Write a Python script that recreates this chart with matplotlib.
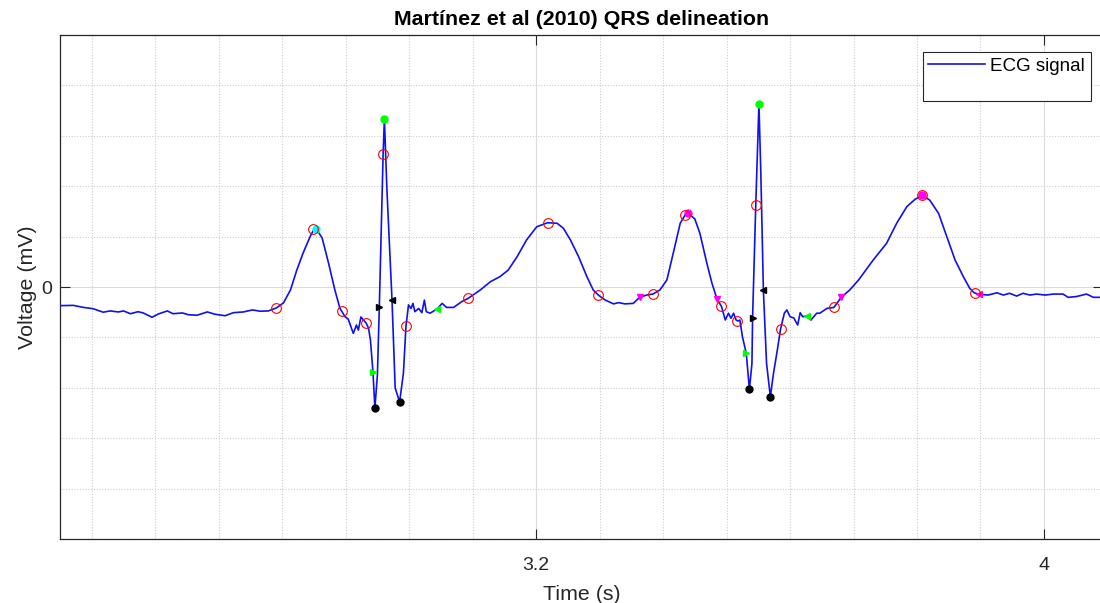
import matplotlib
matplotlib.use("Agg")
import matplotlib.pyplot as plt
from matplotlib.ticker import MultipleLocator, FixedLocator
from matplotlib.lines import Line2D

# ECG trace (time in s, amplitude in mV)
time_s = [2.450, 2.471, 2.487, 2.502, 2.518, 2.529, 2.542, 2.550, 2.561, 2.573,
          2.581, 2.595, 2.605, 2.619, 2.628, 2.643, 2.652, 2.666, 2.682, 2.694,
          2.710, 2.723, 2.739, 2.753, 2.765, 2.778, 2.791, 2.802, 2.813, 2.823,
          2.833, 2.844, 2.850, 2.854, 2.863, 2.873, 2.883, 2.891, 2.894, 2.899,
          2.904, 2.912, 2.917, 2.920, 2.924, 2.928, 2.932, 2.936, 2.939, 2.943,
          2.946, 2.950, 2.953, 2.959, 2.961, 2.965, 2.973, 2.978, 2.985, 2.991,
          2.995, 2.999, 3.003, 3.006, 3.009, 3.015, 3.020, 3.024, 3.027, 3.033,
          3.044, 3.052, 3.059, 3.070, 3.083, 3.093, 3.112, 3.128, 3.143, 3.156,
          3.170, 3.185, 3.201, 3.218, 3.233, 3.243, 3.254, 3.267, 3.280, 3.290,
          3.298, 3.309, 3.322, 3.330, 3.340, 3.353, 3.363, 3.374, 3.384, 3.395,
          3.406, 3.416, 3.427, 3.435, 3.440, 3.450, 3.458, 3.469, 3.477, 3.485,
          3.492, 3.498, 3.503, 3.507, 3.511, 3.515, 3.518, 3.521, 3.525, 3.531,
          3.536, 3.540, 3.541, 3.546, 3.551, 3.554, 3.558, 3.563, 3.569, 3.574,
          3.580, 3.585, 3.591, 3.595, 3.600, 3.606, 3.612, 3.616, 3.620, 3.626,
          3.633, 3.642, 3.647, 3.658, 3.669, 3.681, 3.694, 3.708, 3.731, 3.752,
          3.768, 3.784, 3.797, 3.808, 3.820, 3.834, 3.847, 3.860, 3.873, 3.883,
          3.890, 3.898, 3.912, 3.926, 3.936, 3.946, 3.957, 3.967, 3.978, 3.988,
          4.002, 4.015, 4.030, 4.038, 4.051, 4.067, 4.078, 4.093]

ecg_mv = [-0.074, -0.073, -0.081, -0.086, -0.100, -0.095, -0.099, -0.095, -0.106, -0.098,
          -0.103, -0.120, -0.107, -0.095, -0.106, -0.103, -0.110, -0.112, -0.099, -0.108,
          -0.114, -0.102, -0.099, -0.091, -0.096, -0.095, -0.083, -0.063, -0.012, 0.067,
          0.135, 0.200, 0.229, 0.230, 0.194, 0.095, -0.012, -0.085, -0.097, -0.118,
          -0.127, -0.184, -0.151, -0.171, -0.119, -0.131, -0.142, -0.163, -0.210, -0.337,
          -0.480, -0.349, -0.081, 0.528, 0.667, 0.385, -0.052, -0.401, -0.456, -0.341,
          -0.155, -0.071, -0.085, -0.065, -0.098, -0.085, -0.102, -0.052, -0.098, -0.104,
          -0.087, -0.065, -0.081, -0.081, -0.058, -0.045, -0.012, 0.021, 0.041, 0.067,
          0.120, 0.187, 0.239, 0.255, 0.253, 0.233, 0.187, 0.120, 0.041, -0.012,
          -0.032, -0.052, -0.067, -0.062, -0.067, -0.065, -0.041, -0.032, -0.028, -0.012,
          0.028, 0.134, 0.253, 0.287, 0.292, 0.270, 0.213, 0.094, 0.015, -0.048,
          -0.077, -0.131, -0.104, -0.124, -0.104, -0.131, -0.135, -0.131, -0.197, -0.263,
          -0.406, -0.303, -0.123, 0.325, 0.726, 0.451, -0.012, -0.303, -0.435, -0.342,
          -0.250, -0.168, -0.104, -0.091, -0.118, -0.123, -0.151, -0.102, -0.118, -0.115,
          -0.131, -0.104, -0.104, -0.085, -0.081, -0.040, -0.012, 0.028, 0.107, 0.173,
          0.253, 0.319, 0.348, 0.364, 0.345, 0.292, 0.200, 0.107, 0.041, -0.005,
          -0.023, -0.029, -0.032, -0.023, -0.032, -0.025, -0.036, -0.025, -0.032, -0.028,
          -0.032, -0.028, -0.028, -0.041, -0.038, -0.028, -0.041, -0.041]

# Wave boundaries / peaks (open red circles)
fiducial_t = [2.791, 2.849, 2.894, 2.932, 2.959, 2.995, 3.093, 3.219, 3.298,
              3.384, 3.435, 3.492, 3.517, 3.546, 3.585, 3.669, 3.808, 3.891]
fiducial_v = [-0.083, 0.230, -0.095, -0.141, 0.528, -0.155, -0.044, 0.254, -0.032,
              -0.028, 0.286, -0.077, -0.135, 0.325, -0.167, -0.081, 0.365, -0.022]

# R peaks
r_peak_t = [2.961, 3.551]
r_peak_v = [0.667, 0.726]

# Q and S waves
qs_t = [2.946, 2.985, 3.536, 3.569]
qs_v = [-0.480, -0.456, -0.406, -0.437]

# Black triangles around the R wave
rwave_on_t = [2.953, 3.541]
rwave_on_v = [-0.081, -0.123]
rwave_off_t = [2.973, 3.558]
rwave_off_v = [-0.052, -0.012]

# QRS onset / offset
qrs_on_t = [2.943, 3.531]
qrs_on_v = [-0.337, -0.263]
qrs_off_t = [3.044, 3.626]
qrs_off_v = [-0.087, -0.115]

# P peak (first beat)
p_peak_t = [2.854]
p_peak_v = [0.230]

# P / T peaks and bounds (second beat)
pt_peak_t = [3.440, 3.808]
pt_peak_v = [0.292, 0.364]
pt_bound_t = [3.363, 3.485, 3.681]
pt_bound_v = [-0.041, -0.048, -0.040]
t_end_t = [3.898]
t_end_v = [-0.029]

x_ticks = [3.2, 4]
x_tick_labels = ["3.2", "4"]
y_ticks = [0]
y_tick_labels = ["0"]

plt.rcParams["font.family"] = ["Liberation Sans", "DejaVu Sans"]

W, H = 1100, 603
fig = plt.figure(figsize=(W / 100, H / 100), dpi=100)
ax = fig.add_axes([60 / W, 1 - 539 / H, (1103 - 60) / W, (539 - 35) / H])

axis_col = "#262626"

ax.plot(time_s, ecg_mv, color="#1010f0", lw=1.2, label="ECG signal", zorder=3)

ax.plot(fiducial_t, fiducial_v, "o", ls="none", mfc="none", mec="#ff0000",
        ms=7, mew=0.8, zorder=5)
ax.plot(r_peak_t, r_peak_v, "o", ls="none", color="#00ff00", ms=5, zorder=5)
ax.plot(qs_t, qs_v, "o", ls="none", color="#000000", ms=5, zorder=5)
ax.plot(rwave_on_t, rwave_on_v, ">", ls="none", color="#000000", ms=5, zorder=5)
ax.plot(rwave_off_t, rwave_off_v, "<", ls="none", color="#000000", ms=5, zorder=5)
ax.plot(qrs_on_t, qrs_on_v, ">", ls="none", color="#00ff00", ms=5, zorder=5)
ax.plot(qrs_off_t, qrs_off_v, "<", ls="none", color="#00ff00", ms=5, zorder=5)
ax.plot(p_peak_t, p_peak_v, "o", ls="none", color="#00ffff", ms=5, zorder=4)
ax.plot(pt_peak_t, pt_peak_v, "o", ls="none", color="#ff00ff", ms=5, zorder=4)
ax.plot(pt_bound_t, pt_bound_v, "v", ls="none", color="#ff00ff", ms=5, zorder=4)
ax.plot(t_end_t, t_end_v, "<", ls="none", color="#ff00ff", ms=5, zorder=4)

ax.set_xlim(2.45, 4.093)
ax.set_ylim(-1, 1)

ax.xaxis.set_major_locator(FixedLocator(x_ticks))
ax.set_xticklabels(x_tick_labels)
ax.yaxis.set_major_locator(FixedLocator(y_ticks))
ax.set_yticklabels(y_tick_labels)
ax.xaxis.set_minor_locator(MultipleLocator(0.1))
ax.yaxis.set_minor_locator(MultipleLocator(0.2))

ax.tick_params(which="major", direction="in", length=7, width=0.8, color=axis_col,
               top=True, right=True, labelsize=14, labelcolor=axis_col)
ax.tick_params(axis="x", which="major", pad=13)
ax.tick_params(axis="y", which="major", pad=6)
ax.tick_params(which="minor", length=0, top=True, right=True)

ax.grid(which="major", color="#dcdcdc", lw=0.8, ls="-", zorder=0)
ax.grid(which="minor", color="#cdcdcd", lw=0.8, ls=(0, (1, 1.5)), zorder=0)
ax.set_axisbelow(True)

for s in ax.spines.values():
    s.set_color(axis_col)
    s.set_linewidth(0.9)

ax.set_title("Martínez et al (2010) QRS delineation", fontsize=15.4,
             fontweight="bold", color="#000000", pad=7)
ax.set_xlabel("Time (s)", fontsize=15.4, color=axis_col, labelpad=8)
ax.set_ylabel("Voltage (mV)", fontsize=15.4, color=axis_col, labelpad=3)

spacer = Line2D([], [], color="none")
leg = ax.legend(handles=[ax.lines[0], spacer], labels=["ECG signal", " "],
                loc="upper right", bbox_to_anchor=(0.9882, 0.9657),
                borderaxespad=0, fontsize=13.5, frameon=True, fancybox=False,
                framealpha=1, handlelength=3.0, handletextpad=0.3,
                borderpad=0.3, labelspacing=0.15)
leg.get_frame().set_edgecolor(axis_col)
leg.get_frame().set_linewidth(0.8)
for t in leg.get_texts():
    t.set_color("#000000")

fig.savefig("out.png", dpi=100)
